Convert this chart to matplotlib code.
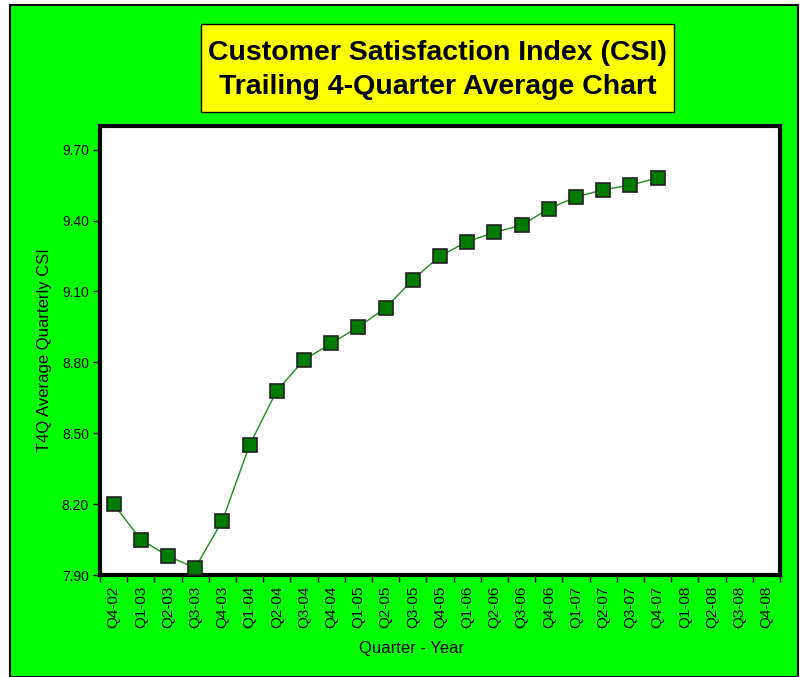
import matplotlib.pyplot as plt
from matplotlib.patches import Rectangle

plt.rcParams['font.family'] = ['Liberation Sans', 'DejaVu Sans']

quarters = ['Q4-02', 'Q1-03', 'Q2-03', 'Q3-03', 'Q4-03', 'Q1-04', 'Q2-04', 'Q3-04', 'Q4-04',
            'Q1-05', 'Q2-05', 'Q3-05', 'Q4-05', 'Q1-06', 'Q2-06', 'Q3-06', 'Q4-06',
            'Q1-07', 'Q2-07', 'Q3-07', 'Q4-07', 'Q1-08', 'Q2-08', 'Q3-08', 'Q4-08']
csi = [8.20, 8.05, 7.98, 7.93, 8.13, 8.45, 8.68, 8.81, 8.88, 8.95, 9.03, 9.15, 9.25,
       9.31, 9.35, 9.38, 9.45, 9.50, 9.53, 9.55, 9.58]
yticks = [7.90, 8.20, 8.50, 8.80, 9.10, 9.40, 9.70]

W, H = 800, 677
fig = plt.figure(figsize=(8, 6.77), dpi=100)
fig.patch.set_facecolor('white')

# green chart area with black border
bg = Rectangle((10 / W, 0), 788 / W, 1 - 5 / H, transform=fig.transFigure,
               facecolor='#00ff00', edgecolor='black', linewidth=1.5, zorder=-2)
fig.patches.append(bg)

# title box
box = Rectangle((201 / W, 1 - 112 / H), 473 / W, 88 / H, transform=fig.transFigure,
                facecolor='yellow', edgecolor='black', linewidth=1, zorder=-1)
fig.patches.append(box)
fig.text(437.5 / W, 1 - 70 / H,
         'Customer Satisfaction Index (CSI)\nTrailing 4-Quarter Average Chart',
         ha='center', va='center', fontsize=20.5, fontweight='bold', linespacing=1.45)

# plot area
ax = fig.add_axes([100 / W, 1 - 575 / H, 680 / W, 449 / H])
ax.set_zorder(1)
ax.set_facecolor('white')
for s in ax.spines.values():
    s.set_linewidth(3)
    s.set_color('black')

x = list(range(len(csi)))
ax.plot(x, csi, color='#1f8a1f', linewidth=1, marker='s', markersize=10,
        markerfacecolor='#007a00', markeredgecolor='#222222', markeredgewidth=1.2,
        clip_on=False, zorder=3)

ax.set_xlim(-0.5, len(quarters) - 0.5)
ax.set_ylim(7.9, 9.8)
ax.set_yticks(yticks)
ax.set_yticklabels(['%.2f' % v for v in yticks], fontsize=10)
ax.set_xticks(range(len(quarters)))
ax.set_xticklabels(quarters, rotation=90, fontsize=11)
ax.set_xticks([i - 0.5 for i in range(len(quarters) + 1)], minor=True)
ax.tick_params(axis='x', which='major', length=0, pad=8)
ax.tick_params(axis='x', which='minor', length=5, width=1, direction='out')
ax.tick_params(axis='y', length=5, width=1, direction='out', pad=3)

fig.text(412 / W, 1 - 648 / H, 'Quarter - Year', ha='center', va='center', fontsize=12)
fig.text(45 / W, 1 - 350 / H, 'T4Q Average Quarterly CSI', ha='center', va='center',
         rotation=90, fontsize=12)

fig.savefig('out.png', dpi=100, facecolor=fig.get_facecolor())
